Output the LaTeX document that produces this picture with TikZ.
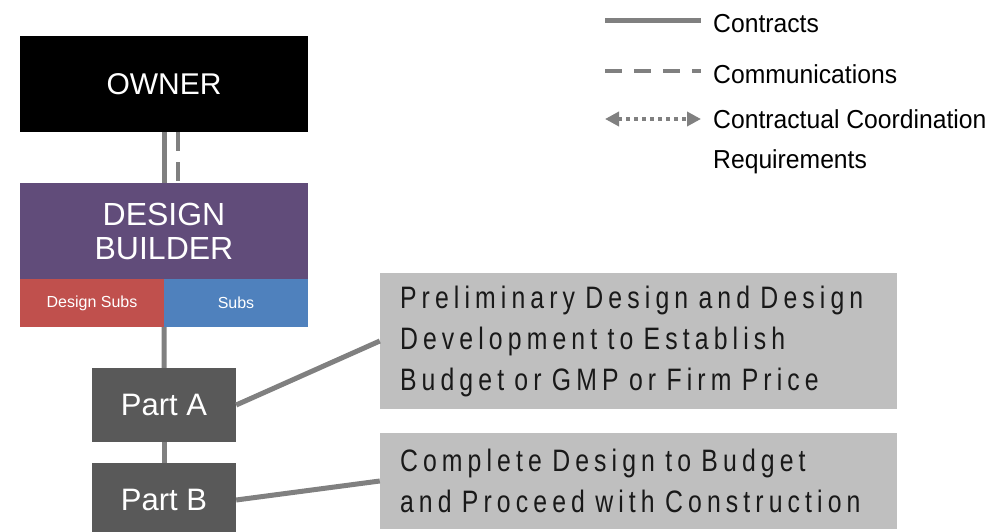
\documentclass[tikz,border=0pt]{standalone}
\usepackage{fontspec}
\setmainfont{Liberation Sans}
\newfontfamily\narrowfont[FakeStretch=0.95]{Liberation Sans}
\newfontfamily\spacedfont[FakeStretch=0.8,LetterSpace=16.5]{Liberation Sans}
\usetikzlibrary{arrows.meta}
\definecolor{linegray}{HTML}{808080}
\definecolor{builderpurple}{HTML}{614C7A}
\definecolor{subsred}{HTML}{C0504D}
\definecolor{subsblue}{HTML}{4F81BD}
\definecolor{partgray}{HTML}{595959}
\definecolor{notegray}{HTML}{BFBFBF}
\begin{document}
\begin{tikzpicture}[x=1pt,y=-1pt,
	box/.style={rectangle,inner sep=0pt,text=white,align=center,minimum width=288pt},
	halfbox/.style={box,minimum width=144pt,minimum height=48pt,font=\fontsize{16}{18}\selectfont},
	partbox/.style={box,fill=partgray,minimum width=144pt,minimum height=74pt,font=\fontsize{31}{34}\selectfont},
	note/.style={rectangle,fill=notegray,inner xsep=20pt,inner ysep=0pt,text width=477pt,align=left,
		text=black!90,font=\spacedfont\fontsize{31}{41}\selectfont},
	contract/.style={draw=linegray,line width=5pt},
	comm/.style={draw=linegray,line width=4pt,dash pattern=on 19pt off 11pt},
	coord/.style={draw=linegray,line width=4pt,dash pattern=on 4pt off 4pt,
		{Triangle[length=14pt,width=14pt]}-{Triangle[length=14pt,width=14pt]}},
	legend/.style={anchor=west,inner sep=0pt,align=left,font=\narrowfont\fontsize{26}{40}\selectfont}]
	\useasboundingbox (0,0) rectangle (997,532);

	% owner and design builder
	\node[box,fill=black,minimum height=96pt,font=\fontsize{30}{32}\selectfont] (owner) at (164,84) {OWNER};
	\node[box,fill=builderpurple,minimum height=96pt,font=\fontsize{32}{34}\selectfont] (builder) at (164,231) {DESIGN\\BUILDER};
	\node[halfbox,fill=subsred] (dsubs) at (92,303) {Design Subs};
	\node[halfbox,fill=subsblue] (subs) at (236,303) {Subs};

	% the two parts
	\node[partbox] (partA) at (164,405) {Part A};
	\node[partbox] (partB) at (164,500) {Part B};
	\node[note,minimum height=136pt] (prelim) at (638.5,341) {Preliminary Design and Design\\Development to Establish\\Budget or GMP or Firm Price};
	\node[note,minimum height=96pt] (complete) at (638.5,481) {Complete Design to Budget\\and Proceed with Construction};

	\draw[contract] (owner.south) -- (builder.north);
	\draw[comm] ([xshift=14pt]owner.south) -- ([xshift=14pt]builder.north);
	\draw[contract] (dsubs.south east) -- (partA.north);
	\draw[contract] (partA.south) -- (partB.north);
	\draw[contract] (partA.east) -- (prelim.west);
	\draw[contract] (partB.east) -- (complete.west);

	% legend
	\coordinate (l1a) at (605,21);  \coordinate (l1b) at (701,21);
	\coordinate (l2a) at (605,71);  \coordinate (l2b) at (701,71);
	\coordinate (l3a) at (605,119); \coordinate (l3b) at (701,119);
	\draw[contract] (l1a) -- (l1b);
	\draw[comm,dash pattern=on 17pt off 12pt] (l2a) -- (l2b);
	\draw[coord] (l3a) -- (l3b);
	\node[legend] (legContracts) at (713,24) {Contracts};
	\node[legend] (legComm) at (713,74) {Communications};
	\node[legend] (legCoord) at (713,142) {Contractual Coordination\\Requirements};
\end{tikzpicture}
\end{document}
